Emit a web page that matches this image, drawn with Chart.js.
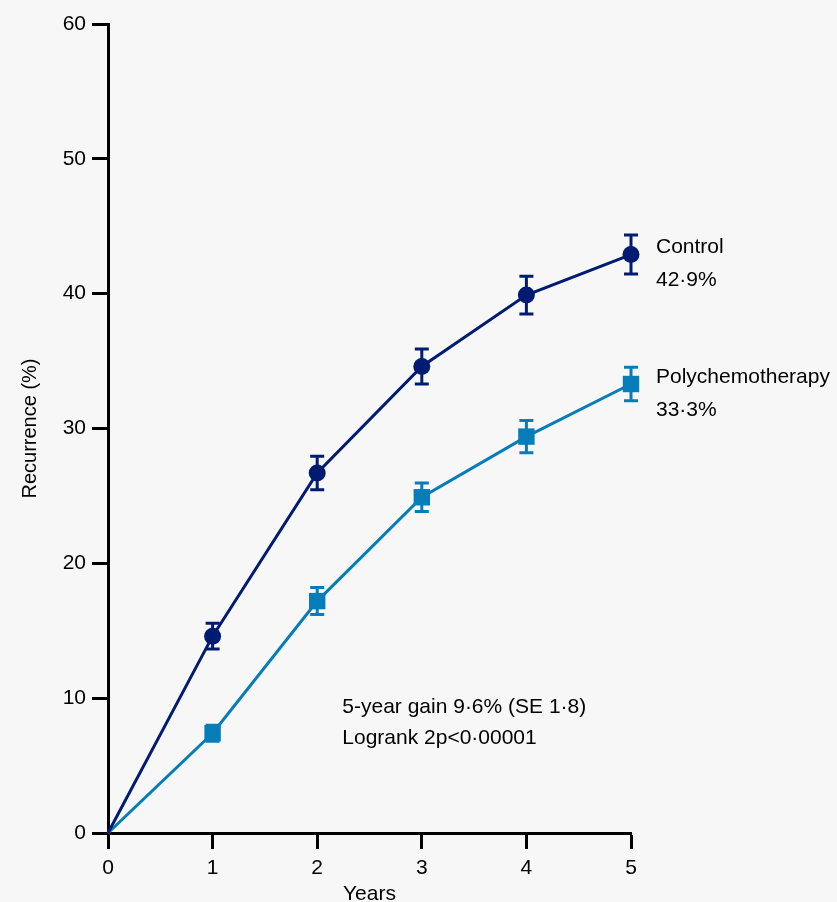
<!DOCTYPE html>
<html>
<head>
<meta charset="utf-8">
<script src="https://cdn.jsdelivr.net/npm/chart.js@4.4.1/dist/chart.umd.min.js"></script>
<style>
  html, body { margin: 0; padding: 0; background: #f7f7f7; }
  #wrap { width: 837px; height: 902px; }
</style>
</head>
<body>
<div id="wrap"><canvas id="c" width="837" height="902"></canvas></div>
<script>
const years = [0, 1, 2, 3, 4, 5];
const controlValues = [0, 14.6, 26.7, 34.6, 39.9, 42.9];
const controlErrors = [0, 0.95, 1.25, 1.3, 1.4, 1.45];
const polyValues = [0, 7.4, 17.2, 24.9, 29.4, 33.3];
const polyErrors = [0, 0.6, 1.0, 1.05, 1.2, 1.25];
const seriesNames = ['Control', 'Polychemotherapy'];
const endLabels = ['42·9%', '33·3%'];
const statLines = ['5-year gain 9·6% (SE 1·8)', 'Logrank 2p<0·00001'];
const statAnchor = { x: 2.24, y: [9.35, 7.0] };
const yTicks = [0, 10, 20, 30, 40, 50, 60];
const xTicks = [0, 1, 2, 3, 4, 5];

const CONTROL_COLOR = '#001c72';
const POLY_COLOR = '#067cb8';
const FONT = '"Liberation Sans", Arial, sans-serif';
const FONT_SIZE = 21;
const TICK_SIZE = 21;

const toXY = (vals) => vals.map((v, i) => ({ x: years[i], y: v }));

const errorBarPlugin = {
  id: 'errorBars',
  beforeDatasetsDraw(chart) {
    const { ctx, scales: { x, y } } = chart;
    chart.data.datasets.forEach((ds) => {
      ctx.save();
      ctx.strokeStyle = ds.borderColor;
      ctx.lineWidth = 3;
      ds.data.forEach((pt, i) => {
        const e = ds.errors[i];
        if (!e) return;
        const px = x.getPixelForValue(pt.x);
        const top = y.getPixelForValue(pt.y + e);
        const bot = y.getPixelForValue(pt.y - e);
        ctx.beginPath();
        ctx.moveTo(px, top); ctx.lineTo(px, bot);
        ctx.moveTo(px - 7, top); ctx.lineTo(px + 7, top);
        ctx.moveTo(px - 7, bot); ctx.lineTo(px + 7, bot);
        ctx.stroke();
      });
      ctx.restore();
    });
  }
};

const textPlugin = {
  id: 'texts',
  afterDatasetsDraw(chart) {
    const { ctx, scales: { x, y } } = chart;
    ctx.save();
    ctx.fillStyle = '#000';
    ctx.font = FONT_SIZE + 'px ' + FONT;
    ctx.textAlign = 'left';
    ctx.textBaseline = 'middle';
    chart.data.datasets.forEach((ds, k) => {
      const last = ds.data[ds.data.length - 1];
      const px = x.getPixelForValue(last.x) + 25;
      const py = y.getPixelForValue(last.y);
      ctx.fillText(seriesNames[k], px, py - 7);
      ctx.fillText(endLabels[k], px, py + 26);
    });
    statLines.forEach((t, i) => {
      ctx.fillText(t, x.getPixelForValue(statAnchor.x), y.getPixelForValue(statAnchor.y[i]));
    });
    ctx.restore();
  }
};

new Chart(document.getElementById('c'), {
  type: 'line',
  data: {
    datasets: [
      {
        label: seriesNames[0],
        data: toXY(controlValues),
        errors: controlErrors,
        borderColor: CONTROL_COLOR,
        backgroundColor: CONTROL_COLOR,
        borderWidth: 3,
        pointStyle: 'circle',
        pointRadius: years.map(v => v === 0 ? 0 : 8.5),
        pointBorderWidth: 0,
        tension: 0,
        clip: false
      },
      {
        label: seriesNames[1],
        data: toXY(polyValues),
        errors: polyErrors,
        borderColor: POLY_COLOR,
        backgroundColor: POLY_COLOR,
        borderWidth: 3,
        pointStyle: 'rect',
        pointRadius: years.map(v => v === 0 ? 0 : 11.6),
        pointBorderWidth: 0,
        tension: 0,
        clip: false
      }
    ]
  },
  options: {
    responsive: false,
    animation: false,
    events: [],
    layout: { padding: { left: 0, top: 24, right: 206, bottom: 0 } },
    plugins: { legend: { display: false }, tooltip: { enabled: false } },
    scales: {
      x: {
        type: 'linear',
        min: 0, max: 5,
        afterBuildTicks: (s) => { s.ticks = xTicks.map(v => ({ value: v })); },
        afterFit: (s) => { s.height = 69; },
        grid: { display: true, drawOnChartArea: false, drawTicks: true, tickLength: 16, tickWidth: 3, tickColor: '#000' },
        border: { display: true, width: 3, color: '#000' },
        ticks: { color: '#000', padding: 7, font: { family: FONT, size: TICK_SIZE }, maxRotation: 0 },
        title: { display: true, text: 'Years', color: '#000', font: { family: FONT, size: FONT_SIZE }, padding: { top: 0, bottom: -5 } }
      },
      y: {
        type: 'linear',
        min: 0, max: 60,
        afterBuildTicks: (s) => { s.ticks = yTicks.map(v => ({ value: v })); },
        afterFit: (s) => { s.width = 108; },
        grid: { display: true, drawOnChartArea: false, drawTicks: true, tickLength: 16, tickWidth: 3, tickColor: '#000' },
        border: { display: true, width: 3, color: '#000' },
        ticks: { color: '#000', padding: 6, font: { family: FONT, size: TICK_SIZE } },
        title: { display: true, text: 'Recurrence (%)', color: '#000', font: { family: FONT, size: 20 }, padding: { top: 18, bottom: 0 } }
      }
    }
  },
  plugins: [errorBarPlugin, textPlugin]
});
</script>
</body>
</html>
